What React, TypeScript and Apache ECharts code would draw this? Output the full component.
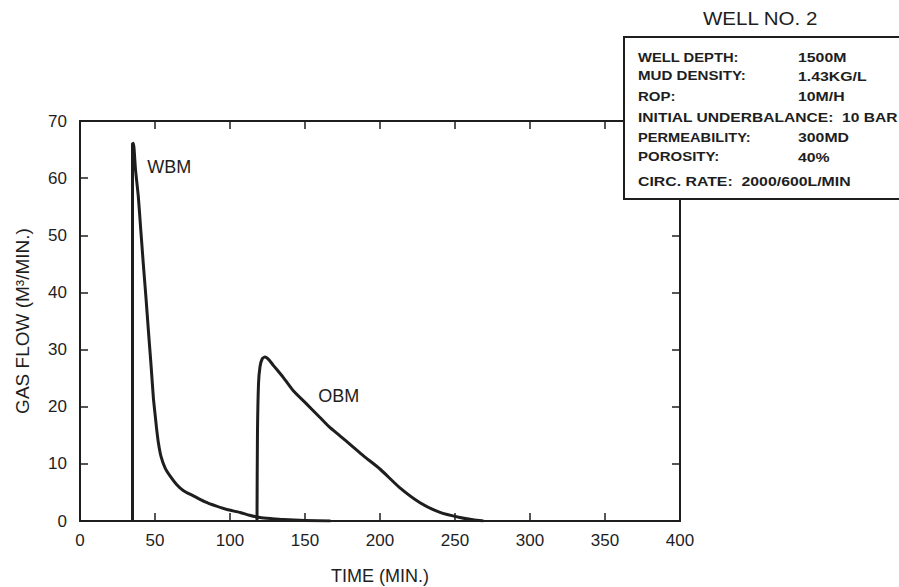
import React, { useEffect, useRef } from "react";
import * as echarts from "echarts";

// WBM curve (time in min, gas flow in m3/min)
const wbmTime = [35, 35, 35.6, 37, 38.9, 40.5, 42.2, 44, 45.6, 47.3, 48.9, 50, 51, 52.2, 54, 56.7, 60, 64.4, 69, 75.6, 83, 91, 98, 106.7, 113, 120, 128, 135.6, 150, 167];
const wbmFlow = [0, 66, 66.1, 61.5, 56.7, 51, 45, 39, 33.3, 27.5, 21.6, 18.8, 16.3, 13.8, 11.3, 9.3, 7.9, 6.4, 5.3, 4.4, 3.4, 2.6, 2.0, 1.5, 1.0, 0.6, 0.4, 0.25, 0.1, 0];

// OBM curve
const obmTime = [118, 118.3, 119, 120, 121.5, 123.3, 126, 129, 135.6, 142.2, 151, 160, 166, 173.3, 181, 189, 200, 213.3, 226.7, 240, 253.3, 262, 269];
const obmFlow = [0, 15, 24, 27, 28.4, 28.7, 28.2, 27.2, 25.1, 22.8, 20.5, 18.1, 16.5, 14.9, 13.2, 11.4, 9.1, 5.8, 3.2, 1.5, 0.6, 0.2, 0];

// curve labels (anchored in data units)
const curveLabels = ["WBM", "OBM"];
const curveLabelTime = [44.5, 158.5];
const curveLabelFlow = [62, 21.8];

// info box
const infoTitle = "WELL NO. 2";
const infoKeys = ["WELL DEPTH:", "MUD DENSITY:", "ROP:", "INITIAL UNDERBALANCE:  10 BAR", "PERMEABILITY:", "POROSITY:", "CIRC. RATE:  2000/600L/MIN"];
const infoValues = ["1500M", "1.43KG/L", "10M/H", "", "300MD", "40%", ""];

const FONT = "'Liberation Sans', Arial, Helvetica, sans-serif";
const INK = "#1e1e1e";

export default function App() {
  const ref = useRef<HTMLDivElement>(null);
  useEffect(() => {
    if (!ref.current) return;
    const chart = echarts.init(ref.current, undefined, { renderer: "svg", width: 899, height: 587 });
    const lineRows = [57.5, 76.5, 97, 118, 137.5, 157.5, 181.5];
    const keyScale = [1.23, 1.26, 1.25, 1.3, 1.22, 1.25, 1.32];
    const graphics: any[] = [
      {
        type: "text",
        x: 703,
        y: 19,
        scaleX: 1.14,
        z: 110,
        style: { text: infoTitle, x: 0, y: 0, font: `18px ${FONT}`, fill: INK, textVerticalAlign: "middle" },
      },
      {
        type: "rect",
        z: 100,
        shape: { x: 624, y: 37, width: 300, height: 162 },
        style: { fill: "#ffffff", stroke: INK, lineWidth: 2 },
      },
    ];
    infoKeys.forEach((k, i) => {
      graphics.push({
        type: "text",
        x: 638,
        y: lineRows[i],
        scaleX: keyScale[i],
        z: 110,
        style: { text: k, x: 0, y: 0, font: `bold 12px ${FONT}`, fill: INK, textVerticalAlign: "middle" },
      });
      if (infoValues[i]) {
        graphics.push({
          type: "text",
          x: 798,
          y: lineRows[i],
          scaleX: 1.32,
          z: 110,
          style: { text: infoValues[i], x: 0, y: 0, font: `bold 12px ${FONT}`, fill: INK, textVerticalAlign: "middle" },
        });
      }
    });

    const axisLine = { show: true, onZero: false, lineStyle: { color: INK, width: 2 } };
    const axisTick = { show: true, inside: true, length: 8, lineStyle: { color: INK, width: 1.5 } };

    const labelPoint = (i: number) => ({
      symbol: "rect",
      symbolSize: 1,
      itemStyle: { color: "rgba(0,0,0,0)" },
      data: [
        {
          coord: [curveLabelTime[i], curveLabelFlow[i]],
          label: {
            show: true,
            formatter: curveLabels[i],
            position: "right",
            distance: 0,
            color: INK,
            fontSize: 18,
            fontFamily: FONT,
          },
        },
      ],
    });

    chart.setOption({
      animation: false,
      backgroundColor: "#ffffff",
      grid: { left: 80, right: 219, top: 121, bottom: 66, containLabel: false, outerBoundsMode: "none" },
      xAxis: [
        {
          type: "value",
          position: "bottom",
          min: 0,
          max: 400,
          interval: 50,
          axisLine,
          axisTick,
          splitLine: { show: false },
          axisLabel: { color: INK, fontSize: 17, fontFamily: FONT, margin: 11 },
          name: "TIME (MIN.)",
          nameLocation: "middle",
          nameGap: 46,
          nameTextStyle: { color: INK, fontSize: 18, fontFamily: FONT },
        },
        {
          type: "value",
          position: "top",
          min: 0,
          max: 400,
          interval: 50,
          axisLine,
          axisTick,
          splitLine: { show: false },
          axisLabel: { show: false },
        },
      ],
      yAxis: [
        {
          type: "value",
          position: "left",
          min: 0,
          max: 70,
          interval: 10,
          axisLine,
          axisTick,
          splitLine: { show: false },
          axisLabel: { color: INK, fontSize: 17, fontFamily: FONT, margin: 13 },
          name: "GAS FLOW (M³/MIN.)",
          nameLocation: "middle",
          nameGap: 48,
          nameTextStyle: { color: INK, fontSize: 19, fontFamily: FONT },
        },
        {
          type: "value",
          position: "right",
          min: 0,
          max: 70,
          interval: 10,
          axisLine,
          axisTick,
          splitLine: { show: false },
          axisLabel: { show: false },
        },
      ],
      series: [
        {
          name: "WBM",
          type: "line",
          xAxisIndex: 0,
          yAxisIndex: 0,
          showSymbol: false,
          smooth: 0.2,
          data: wbmTime.map((t, i) => [t, wbmFlow[i]]),
          lineStyle: { color: INK, width: 3, join: "round" },
          markPoint: labelPoint(0),
        },
        {
          name: "OBM",
          type: "line",
          xAxisIndex: 0,
          yAxisIndex: 0,
          showSymbol: false,
          smooth: 0.2,
          data: obmTime.map((t, i) => [t, obmFlow[i]]),
          lineStyle: { color: INK, width: 3, join: "round" },
          markPoint: labelPoint(1),
        },
      ],
      graphic: graphics,
    });
    return () => chart.dispose();
  }, []);
  return <div ref={ref} style={{ position: "fixed", left: 0, top: 0, width: 899, height: 587 }} />;
}
